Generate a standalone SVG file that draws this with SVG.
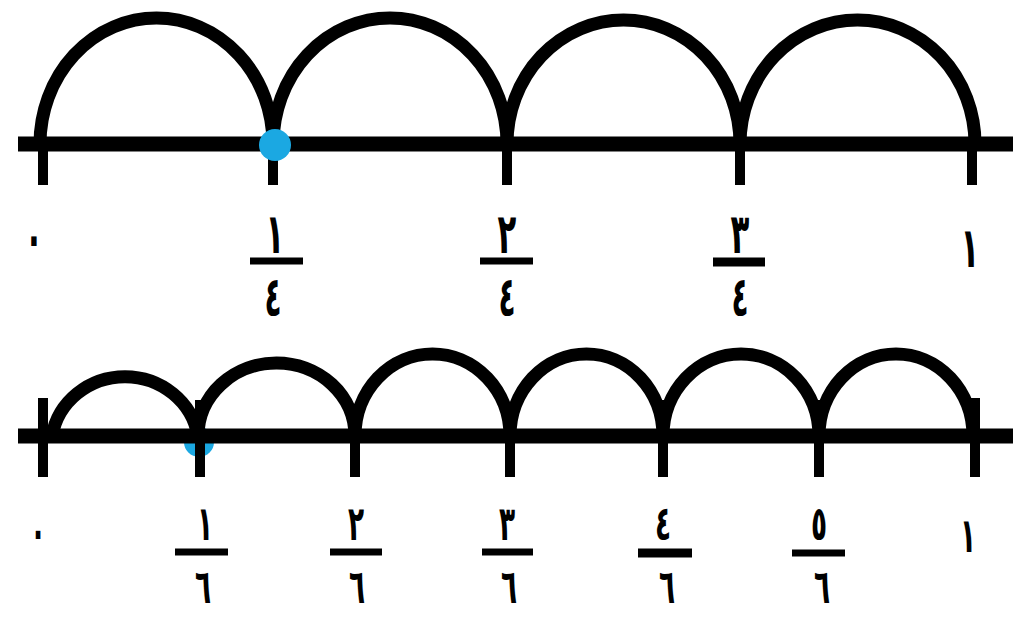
<svg xmlns="http://www.w3.org/2000/svg" width="1013" height="624" viewBox="0 0 1013 624">
<style>
.axis{stroke:#000;stroke-width:15;fill:none}
.tick{stroke:#000;stroke-width:10;fill:none}
.arc{stroke:#000;stroke-width:13;fill:none}
.bar{stroke:#000;stroke-width:7}
.dot{fill:#1ba8e2}
.t{font-family:"DejaVu Sans",sans-serif;font-weight:bold;fill:#000;text-anchor:middle}
.t4{font-size:56px}
.t6{font-size:48px}
</style>
<rect width="1013" height="624" fill="#fff"/>
<g id="top-line">
  <path class="arc" d="M40,144 A116.5,126 0 0 1 273,144 A117,126 0 0 1 507,144 A116.5,124 0 0 1 740,144 A117.5,124 0 0 1 975,144"/>
  <line class="axis" x1="18" y1="144" x2="1013" y2="144"/>
  <g class="tick">
    <line x1="43" y1="144" x2="43" y2="185"/>
    <line x1="273" y1="144" x2="273" y2="185"/>
    <line x1="507" y1="144" x2="507" y2="185"/>
    <line x1="740" y1="144" x2="740" y2="185"/>
    <line x1="972" y1="144" x2="972" y2="185"/>
  </g>
  <circle class="dot" cx="275" cy="145" r="16"/>
</g>
<g id="top-labels">
  <text class="t t4" transform="translate(34,257) scale(0.55,1)">٠</text>
  <g id="q1"><text class="t t4" transform="translate(275,253) scale(0.55,1)">١</text><line class="bar" x1="250" y1="261" x2="303" y2="261"/><text class="t t4" transform="translate(273,316) scale(0.5,1)">٤</text></g>
  <g id="q2"><text class="t t4" transform="translate(507,253) scale(0.55,1)">٢</text><line class="bar" x1="480" y1="261" x2="533" y2="261"/><text class="t t4" transform="translate(507,316) scale(0.5,1)">٤</text></g>
  <g id="q3"><text class="t t4" transform="translate(740,253) scale(0.55,1)">٣</text><line class="bar" x1="713" y1="262" x2="765" y2="262" style="stroke-width:9"/><text class="t t4" transform="translate(740,316) scale(0.5,1)">٤</text></g>
  <text class="t t4" transform="translate(970,267) scale(0.55,1)">١</text>
</g>
<g id="bottom-line">
  <circle class="dot" cx="199" cy="442" r="15"/>
  <path class="arc" d="M52,436 A74,71 0 0 1 198,436 A78.5,73 0 0 1 355,436 A77.5,82 0 0 1 510,436 A76.5,82 0 0 1 663,436 A78,82 0 0 1 819,436 A77,82 0 0 1 973,436"/>
  <line class="axis" x1="18" y1="436" x2="1013" y2="436"/>
  <g class="tick">
    <line x1="43" y1="398" x2="43" y2="477"/>
    <line x1="200" y1="400" x2="200" y2="477"/>
    <line x1="355" y1="436" x2="355" y2="477"/>
    <line x1="510" y1="436" x2="510" y2="477"/>
    <line x1="663" y1="400" x2="663" y2="477"/>
    <line x1="819" y1="400" x2="819" y2="477"/>
    <line x1="975" y1="398" x2="975" y2="477"/>
  </g>
</g>
<g id="bottom-labels">
  <text class="t t6" transform="translate(38,548) scale(0.55,1)">٠</text>
  <g id="s1"><text class="t t6" transform="translate(205,540) scale(0.55,1)">١</text><line class="bar" x1="175" y1="552" x2="228" y2="552"/><text class="t t6" transform="translate(203,603) scale(0.55,1)">٦</text></g>
  <g id="s2"><text class="t t6" transform="translate(356,540) scale(0.55,1)">٢</text><line class="bar" x1="330" y1="552" x2="382" y2="552"/><text class="t t6" transform="translate(357,603) scale(0.55,1)">٦</text></g>
  <g id="s3"><text class="t t6" transform="translate(507,540) scale(0.55,1)">٣</text><line class="bar" x1="482" y1="552" x2="533" y2="552"/><text class="t t6" transform="translate(509,603) scale(0.55,1)">٦</text></g>
  <g id="s4"><text class="t t6" transform="translate(663,540) scale(0.55,1)">٤</text><line class="bar" x1="638" y1="553" x2="692" y2="553" style="stroke-width:9"/><text class="t t6" transform="translate(667,603) scale(0.55,1)">٦</text></g>
  <g id="s5"><text class="t t6" transform="translate(819,540) scale(0.55,1)">٥</text><line class="bar" x1="792" y1="553" x2="845" y2="553"/><text class="t t6" transform="translate(822,603) scale(0.55,1)">٦</text></g>
  <text class="t t6" transform="translate(968,552) scale(0.55,1)">١</text>
</g>
</svg>
